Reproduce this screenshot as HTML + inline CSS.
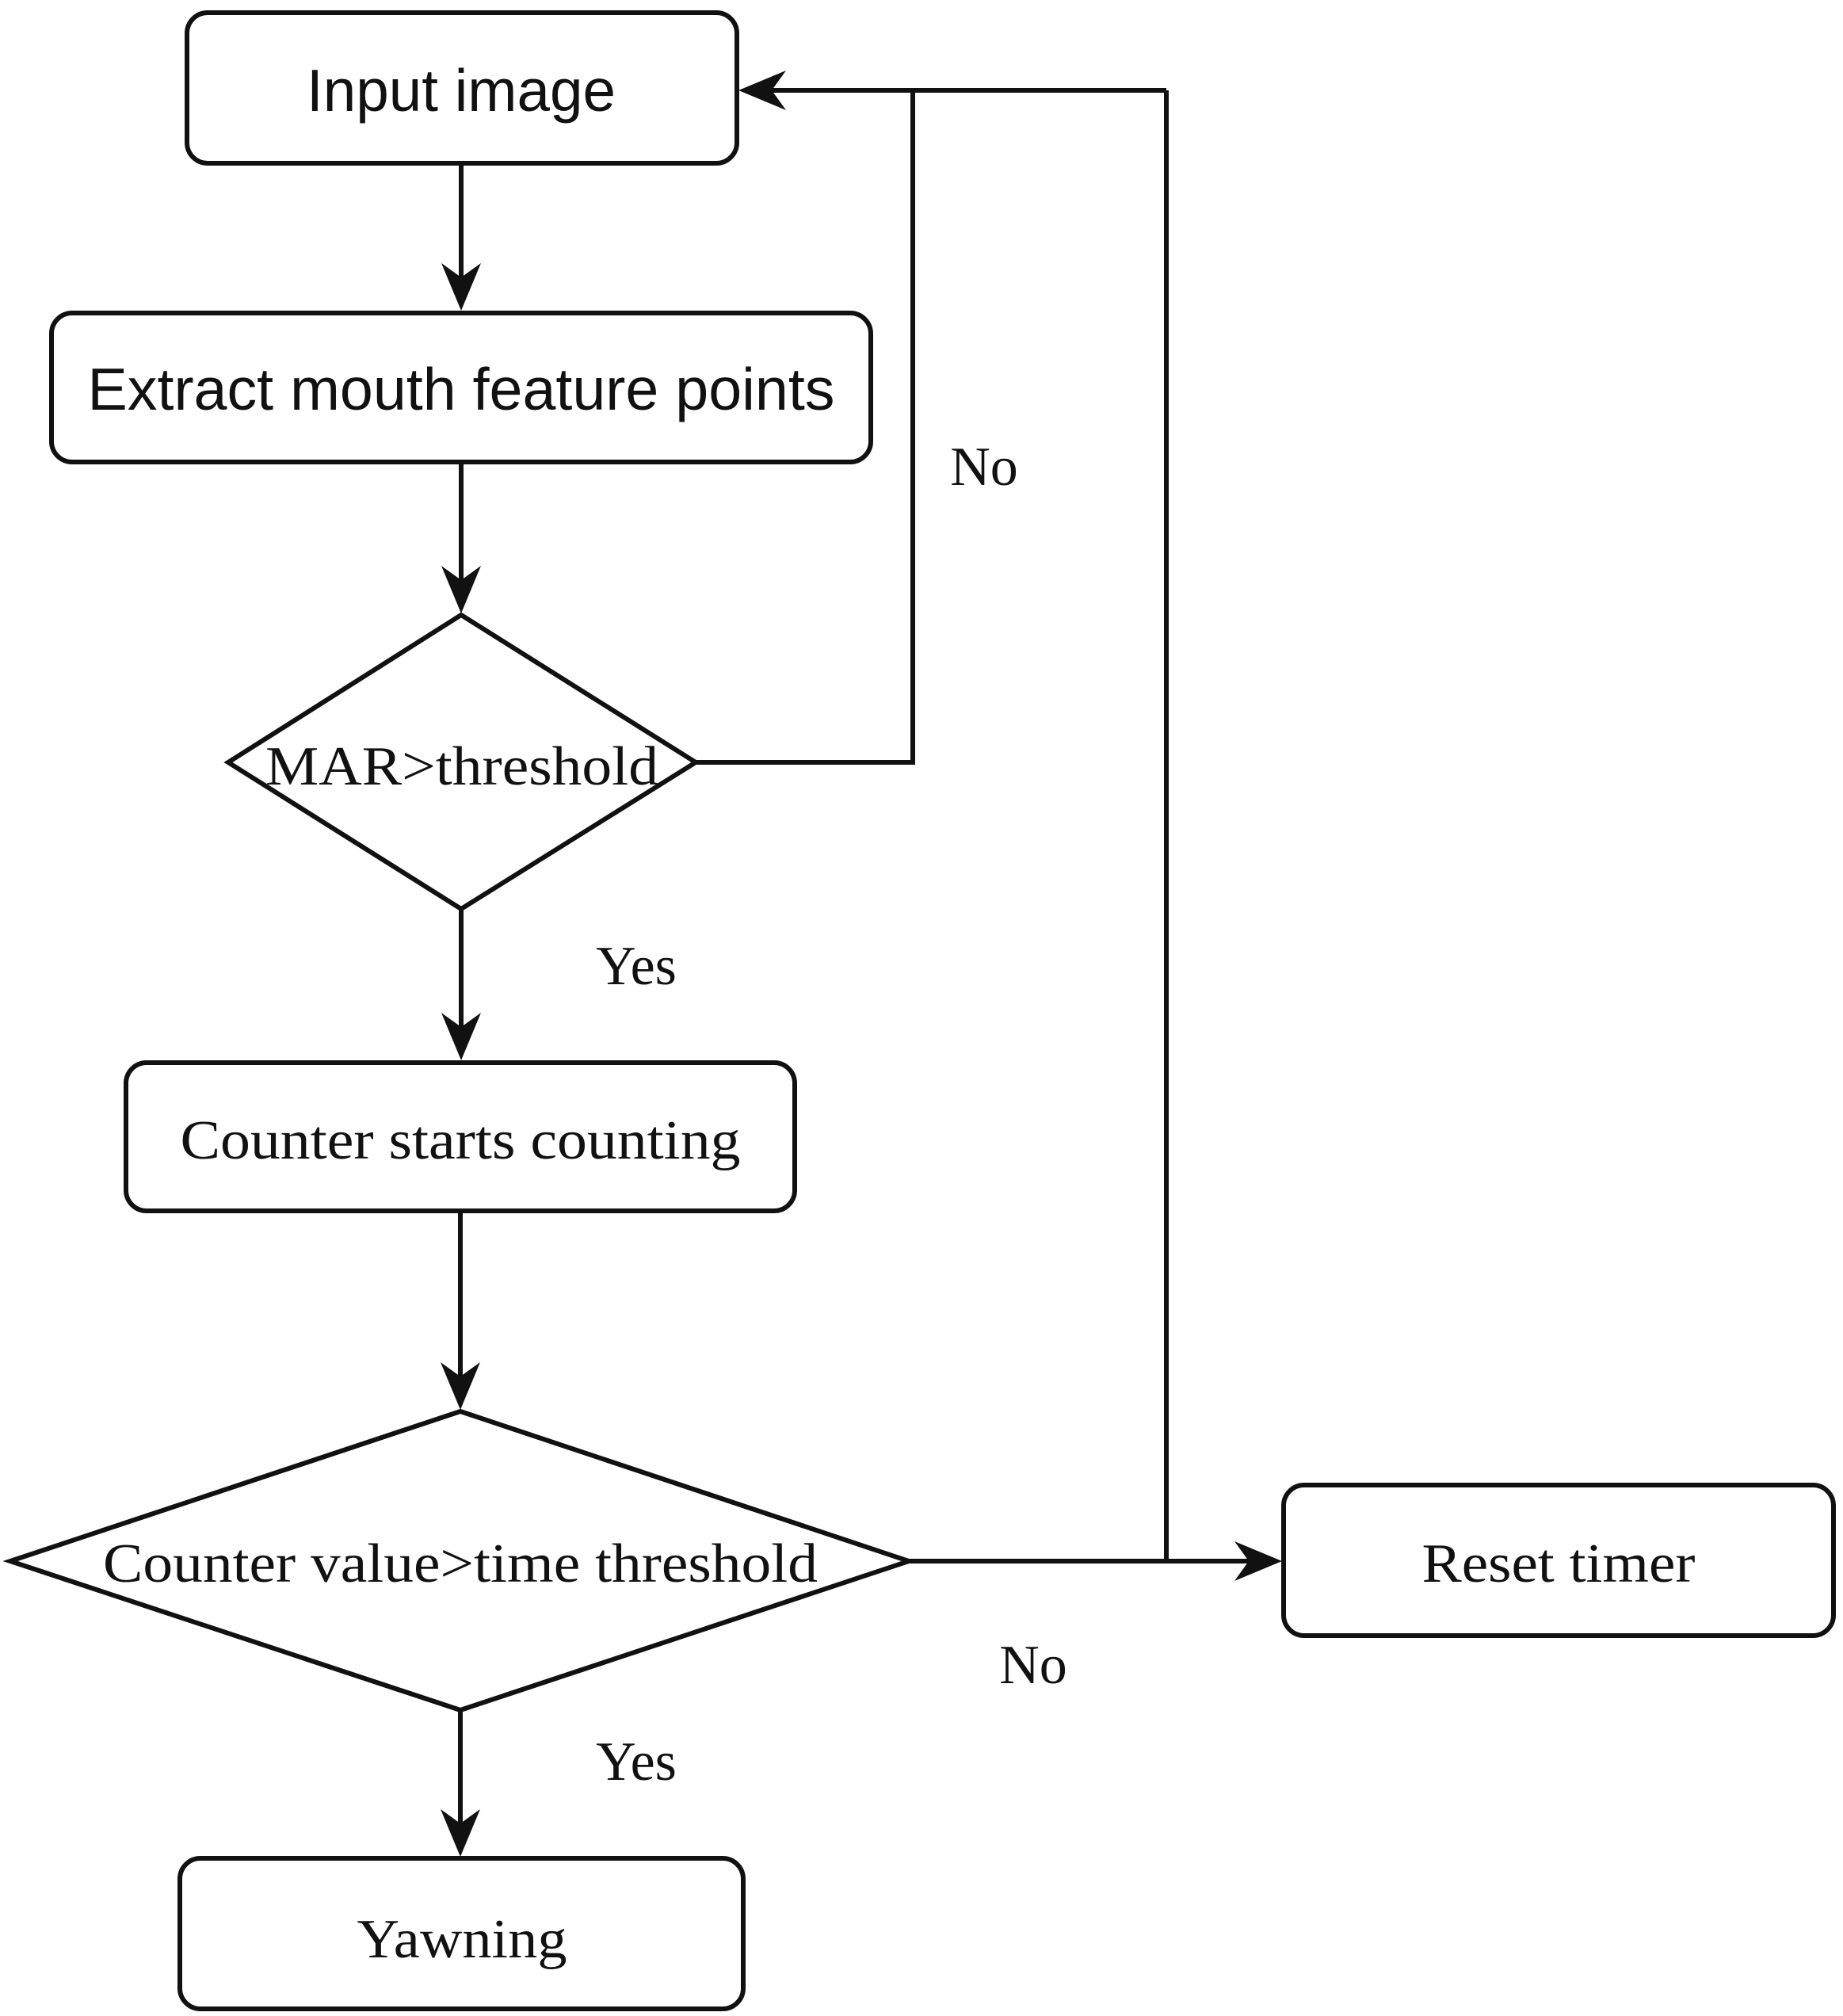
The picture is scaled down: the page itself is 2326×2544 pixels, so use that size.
<!DOCTYPE html>
<html><head><meta charset="utf-8"><style>
html,body{margin:0;padding:0;background:#fff;}
svg{display:block;}
.s{font-family:"Liberation Sans",sans-serif;font-size:75px;fill:#111;}
.r{font-family:"Liberation Serif",serif;font-size:70px;fill:#111;}
</style></head><body>
<svg width="2326" height="2544" viewBox="0 0 2326 2544" xmlns="http://www.w3.org/2000/svg">
<g fill="none" stroke="#111" stroke-width="6">
<rect x="236" y="16" width="694" height="190" rx="26"/>
<rect x="65" y="395" width="1034" height="188" rx="26"/>
<polygon points="582,776 878,962 582,1147 288,962"/>
<rect x="159" y="1341" width="844" height="187" rx="26"/>
<polygon points="581,1781 1147,1970 581,2158 13,1970"/>
<rect x="1620" y="1874" width="694" height="190" rx="26"/>
<rect x="227" y="2345" width="711" height="190" rx="26"/>
<line x1="582" y1="206" x2="582" y2="350"/>
<line x1="582" y1="583" x2="582" y2="732"/>
<line x1="582" y1="1147" x2="582" y2="1296"/>
<line x1="581" y1="1528" x2="581" y2="1738"/>
<line x1="581" y1="2158" x2="581" y2="2302"/>
<polyline points="878,962 1152,962 1152,114"/>
<line x1="1472" y1="114" x2="972" y2="114"/>
<line x1="1472" y1="114" x2="1472" y2="1970"/>
<line x1="1147" y1="1970" x2="1578" y2="1970"/>
</g>
<g fill="#111">
<polygon points="582,392 557,332 582,350 607,332"/>
<polygon points="582,774 557,714 582,732 607,714"/>
<polygon points="582,1338 557,1278 582,1296 607,1278"/>
<polygon points="581,1779 556,1719 581,1737 606,1719"/>
<polygon points="581,2343 556,2283 581,2301 606,2283"/>
<polygon points="932,114 992,89 974,114 992,139"/>
<polygon points="1618,1970 1558,1945 1576,1970 1558,1995"/>
</g>
<text class="s" x="582" y="140" text-anchor="middle" textLength="390" lengthAdjust="spacingAndGlyphs">Input image</text>
<text class="s" x="582" y="517" text-anchor="middle" textLength="943" lengthAdjust="spacingAndGlyphs">Extract mouth feature points</text>
<text class="r" x="583" y="990" text-anchor="middle" textLength="496" lengthAdjust="spacingAndGlyphs">MAR&gt;threshold</text>
<text class="r" x="581" y="1462" text-anchor="middle" textLength="707" lengthAdjust="spacingAndGlyphs">Counter starts counting</text>
<text class="r" x="581" y="1996" text-anchor="middle" textLength="902" lengthAdjust="spacingAndGlyphs">Counter value&gt;time threshold</text>
<text class="r" x="1967" y="1996" text-anchor="middle" textLength="345" lengthAdjust="spacingAndGlyphs">Reset timer</text>
<text class="r" x="583" y="2470" text-anchor="middle" textLength="265" lengthAdjust="spacingAndGlyphs">Yawning</text>
<text class="r" x="1242" y="612" text-anchor="middle">No</text>
<text class="r" x="1304" y="2124" text-anchor="middle">No</text>
<text class="r" x="803" y="1242" text-anchor="middle">Yes</text>
<text class="r" x="803" y="2246" text-anchor="middle">Yes</text>
</svg>
</body></html>
